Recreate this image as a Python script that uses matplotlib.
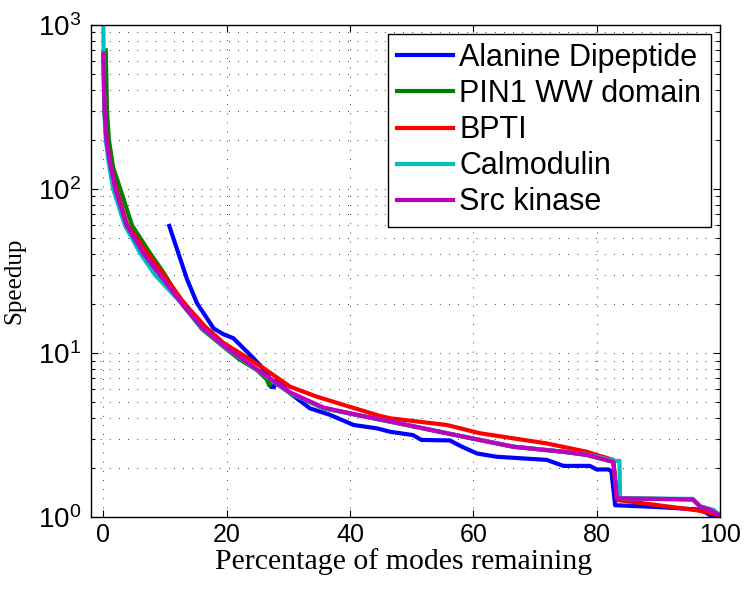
import numpy as np
import matplotlib
matplotlib.use("Agg")
import matplotlib.pyplot as plt
from matplotlib.ticker import LogLocator, NullFormatter

# values
ala_x = [10.7, 13.6, 15.2, 17.9, 19.5, 21.1, 23.5, 25.4, 26.8, 27.2, 27.7, 28.1, 30.3, 33.5, 36.8,
         40.6, 44.4, 46.5, 50.2, 51.6, 56.2, 58.0, 60.6, 63.8, 71.9, 74.6, 78.9, 80.0, 81.9, 82.4,
         83.0, 90.0, 96.8, 99.0, 100.0]
ala_y = [59.5, 28.0, 20.1, 14.1, 13.0, 12.3, 10.0, 8.45, 7.2, 6.2, 6.2, 6.9, 5.68, 4.6, 4.19,
         3.64, 3.47, 3.31, 3.16, 2.95, 2.93, 2.7, 2.44, 2.33, 2.23, 2.05, 2.05, 1.95, 1.95, 1.9,
         1.18, 1.15, 1.11, 1.0, 0.97]

pin_x = [0.4, 0.5, 0.6, 0.9, 1.6, 2.76, 4.65, 7.6, 10.0, 13.1, 16.0, 19.5, 22.0, 24.9, 26.5, 26.9,
         27.3, 30.3, 35.7, 41.1, 46.5, 55.7, 61.0, 66.5, 74.6, 78.4, 82.7, 83.3, 95.6, 96.8, 99.0, 100.0]
pin_y = [700, 450, 300, 200, 135, 100, 60, 40.5, 30, 19.2, 14.0, 10.9, 9.2, 7.87, 6.9, 6.35,
         6.8, 5.68, 4.6, 4.19, 3.81, 3.24, 2.95, 2.68, 2.5, 2.39, 2.17, 1.30, 1.28, 1.16, 1.1, 1.02]

bpti_x = [0.0, 0.2, 0.5, 1.0, 2.1, 3.9, 7.2, 9.8, 12.75, 13.6, 16.5, 19.5, 22.5, 26.0, 30.3, 34.6,
          39.0, 44.9, 46.5, 55.7, 61.1, 71.9, 78.4, 80.0, 82.7, 83.3, 90.0, 96.2, 99.0, 100.0]
bpti_y = [650, 300, 200, 150, 100, 60, 40.5, 29.9, 21, 19.2, 14.5, 11.5, 9.8, 8.07, 6.23, 5.42,
          4.82, 4.13, 4.0, 3.64, 3.24, 2.81, 2.5, 2.39, 2.23, 1.27, 1.18, 1.10, 1.05, 1.0]

cal_x = [0.0, 0.15, 0.4, 0.8, 1.6, 3.5, 6.0, 8.4, 12.2, 13.1, 16.0, 19.5, 24.9, 30.3, 35.7, 41.1,
         46.5, 55.7, 61.0, 66.5, 74.6, 78.4, 83.0, 83.7, 83.8, 95.6, 96.8, 99.0, 100.0]
cal_y = [1000, 300, 200, 150, 100, 60, 40.5, 29.9, 21, 19.2, 14.2, 11.0, 7.9, 5.7, 4.62, 4.2,
         3.82, 3.25, 2.96, 2.69, 2.5, 2.4, 2.2, 2.2, 1.3, 1.29, 1.16, 1.1, 1.02]

src_x = [0.0, 0.2, 0.5, 1.0, 1.95, 3.8, 6.5, 9.2, 13.1, 16.0, 19.5, 24.9, 30.3, 35.7, 41.1, 46.5,
         55.7, 61.0, 66.5, 74.6, 78.4, 82.7, 83.3, 95.6, 96.8, 98.5, 100.0]
src_y = [670, 300, 200, 150, 100, 60, 40.5, 29.9, 19.2, 14.3, 11.1, 7.95, 5.75, 4.65, 4.2, 3.83,
         3.24, 2.95, 2.68, 2.5, 2.39, 2.17, 1.30, 1.28, 1.155, 1.1, 1.02]

labels = ["Alanine Dipeptide", "PIN1 WW domain", "BPTI", "Calmodulin", "Src kinase"]
colors = ["#0000ff", "#008000", "#ff0000", "#00bfbf", "#bf00bf"]
series = [(ala_x, ala_y), (pin_x, pin_y), (bpti_x, bpti_y), (cal_x, cal_y), (src_x, src_y)]

fig = plt.figure(figsize=(7.47, 5.9), dpi=100)
ax = fig.add_axes([0.1218, 0.1237, 0.842, 0.834])

for (xs, ys), c, lab in zip(series, colors, labels):
    ax.plot(xs, ys, color=c, lw=3, label=lab, solid_joinstyle="round")

ax.set_yscale("log")
ax.set_xlim(-2, 100)
ax.set_ylim(1, 1000)
ax.set_xticks([0, 20, 40, 60, 80, 100])
ax.yaxis.set_major_locator(LogLocator(base=10, numticks=10))
ax.yaxis.set_minor_locator(LogLocator(base=10, subs=np.arange(2, 10), numticks=10))
ax.yaxis.set_minor_formatter(NullFormatter())

gridstyle = dict(color="k", lw=0.6, linestyle=(0, (1, 10)))
ax.grid(True, which="major", axis="both", **gridstyle)
ax.grid(True, which="minor", axis="y", **gridstyle)

ax.tick_params(which="both", direction="in", top=True, right=True, width=0.8)
ax.tick_params(which="major", length=5)
ax.tick_params(axis="x", which="major", labelsize=18, pad=4)
ax.tick_params(axis="y", which="major", labelsize=20, pad=7)
ax.tick_params(which="minor", length=3)
for lbl in ax.get_xticklabels() + ax.get_yticklabels():
    lbl.set_family("Liberation Sans")
for s in ax.spines.values():
    s.set_linewidth(1.0)

ax.set_xlabel("Percentage of modes remaining", family="Liberation Serif", fontsize=21.5)
ax.xaxis.set_label_coords(0.497, -0.063)
ax.set_ylabel("Speedup", family="Liberation Serif", fontsize=18)
ax.yaxis.set_label_coords(-0.105, 0.48)

leg = ax.legend(loc="upper right", bbox_to_anchor=(0.985, 0.982), prop={"family": "Liberation Sans", "size": 22},
                fancybox=False, edgecolor="k", framealpha=1, borderpad=0.3, labelspacing=0.2,
                handlelength=1.85, handletextpad=0.2, borderaxespad=0)
leg.get_frame().set_linewidth(1.0)

fig.savefig("out.png", dpi=100)
